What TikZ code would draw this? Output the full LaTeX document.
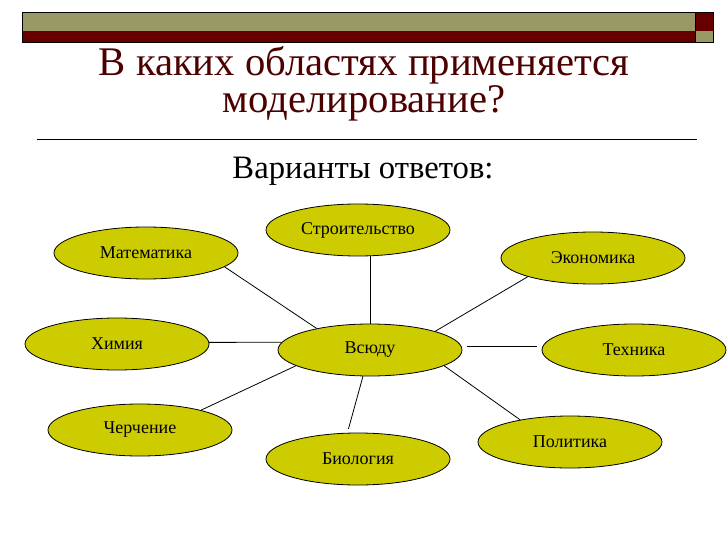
\documentclass[tikz,border=0pt]{standalone}
\usepackage{fontspec}
\setmainfont{Liberation Serif}
\newfontfamily\tnr{Liberation Serif}
\usetikzlibrary{shapes.geometric}
\definecolor{olivebar}{HTML}{999966}
\definecolor{maroonbar}{HTML}{660000}
\definecolor{titlecol}{HTML}{4D0000}
\definecolor{ellfill}{HTML}{CCCC00}
\begin{document}
\begin{tikzpicture}[x=0.75pt,y=-0.75pt,
  topic/.style={ellipse,draw=black,line width=0.6pt,fill=ellfill,
    minimum width=138pt,minimum height=39pt,inner sep=0pt,
    font=\tnr\fontsize{13.5}{16}\selectfont},
  link/.style={draw=black,line width=0.6pt},
  titletext/.style={text=titlecol,font=\tnr\fontsize{30.5}{26}\selectfont,align=center,anchor=base,inner sep=0pt},
  subtext/.style={text=black,font=\tnr\fontsize{24.5}{29}\selectfont,anchor=base,inner sep=0pt}]
\useasboundingbox[fill=white] (0,0) rectangle (728,546);
% top bar
\fill[olivebar] (22,12) rectangle (695,30.5);
\fill[maroonbar] (22,30.5) rectangle (695,42);
\fill[maroonbar] (695,12) rectangle (713,30.5);
\fill[olivebar] (695,30.5) rectangle (713,42);
\draw[line width=0.6pt] (22,12) rectangle (713,42);
\draw[line width=0.6pt] (695,12) -- (695,42);
% title
\node[titletext] (title) at (364,112) {В каких областях применяется\\моделирование?};
\coordinate (sepl) at (37,139);
\coordinate (sepr) at (697,139);
\draw[line width=0.6pt] (sepl) -- (sepr);
\node[subtext] (sub) at (363,178) {Варианты ответов:};
% nodes
\node[topic] (str)  at (358,230) {Строительство};
\node[topic] (mat)  at (146,253) {Математика};
\node[topic] (eco)  at (593,258) {Экономика};
\node[topic] (hx)   at (117,344) {Химия};
\node[topic] (vs)   at (370,350) {Всюду};
\node[topic] (tech) at (634,350) {Техника};
\node[topic] (cher) at (140,430) {Черчение};
\node[topic] (pol)  at (570,442) {Политика};
\node[topic] (bio)  at (358,459) {Биология};
% connectors
\draw[link] (mat.-10) -- (vs.158);
\draw[link] (hx.1) -- (vs.175);
\draw[link] (vs.north) -- (vs.north |- str.south);
\draw[link] (eco.196) -- (vs.16);
\draw[link,shorten <=4pt,shorten >=4pt] (vs.2) -- (tech.178);
\draw[link] (vs.-12) -- (pol.156);
\draw[link,shorten >=3pt] (vs.-105) -- (bio.112);
\draw[link] (vs.-168) -- (cher.18);
\end{tikzpicture}
\end{document}
